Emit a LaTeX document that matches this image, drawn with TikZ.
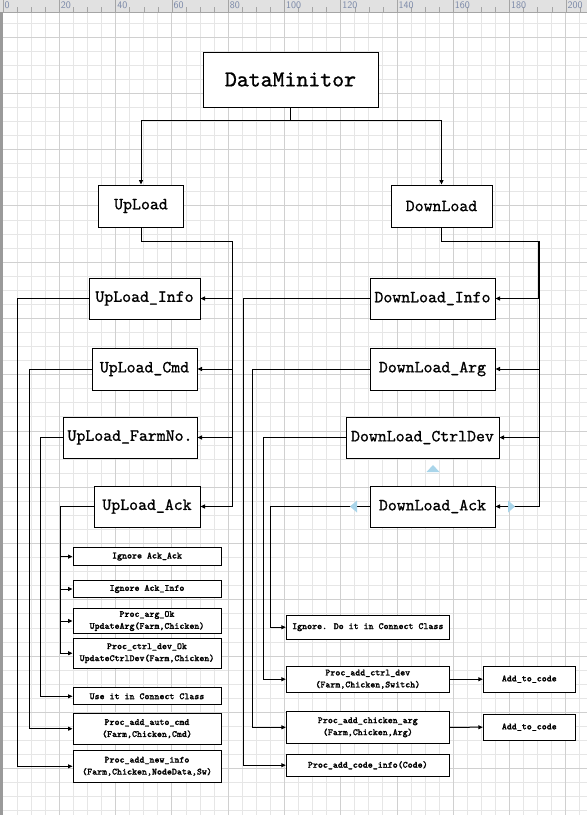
\documentclass[tikz,border=0pt]{standalone}
\usepackage{fontspec}
\usetikzlibrary{arrows.meta}
\newfontfamily\mainmono{lmmono10-regular.otf}[FakeBold=1]
\newfontfamily\smallmono{lmmonolt10-bold.otf}[FakeBold=1.2]
\definecolor{gridminor}{HTML}{E6E6E6}
\definecolor{gridmajor}{HTML}{D0D0D0}
\definecolor{rulerbg}{HTML}{E1E1E1}
\definecolor{rulerline}{HTML}{A5A5A5}
\definecolor{rulertext}{HTML}{7A88A8}
\definecolor{leftedge}{HTML}{9A9A9A}
\definecolor{handle}{HTML}{A9D5EA}
\begin{document}
\begin{tikzpicture}[x=1pt,y=-1pt,
  box/.style={draw, line width=1pt, fill=white, inner sep=0pt, align=center},
  big/.style={box, font=\mainmono\fontsize{17}{20}\selectfont},
  small/.style={box, font=\smallmono\fontsize{9.5}{12}\selectfont, minimum width=148pt},
  smallr/.style={small, minimum width=163pt},
  conn/.style={line width=1pt},
  arr/.style={conn, -{Triangle[length=4.5pt,width=4pt]}},
  rulerlab/.style={anchor=north west, inner sep=0pt, text=rulertext, font=\sffamily\fontsize{10}{10}\selectfont}
]
\useasboundingbox (0,0) rectangle (587,815);
\fill[white] (0,0) rectangle (587,815);
% grid
\foreach \i in {1,...,41} { \draw[gridminor, line width=0.8pt] ({3+14.07*\i},12) -- ({3+14.07*\i},815); }
\foreach \j in {-1,...,55} { \draw[gridminor, line width=0.8pt] (3,{37+14.07*\j}) -- (587,{37+14.07*\j}); }
\foreach \i in {4,8,...,40} { \draw[gridmajor, line width=0.8pt] ({3+14.07*\i},12) -- ({3+14.07*\i},815); }
\foreach \j in {0,4,...,52} { \draw[gridmajor, line width=0.8pt] (3,{37+14.07*\j}) -- (587,{37+14.07*\j}); }
% ruler
\fill[rulerbg] (0,0) rectangle (587,12);
\draw[rulerline] (0,12) -- (587,12);
\foreach \i in {0,...,41} { \draw[rulerline] ({3+14.07*\i},7) -- ({3+14.07*\i},12); }
\foreach \k in {0,...,10} {
  \pgfmathtruncatemacro\lab{20*\k}
  \draw[rulerline] ({3+56.28*\k},0) -- ({3+56.28*\k},12);
  \node[rulerlab] (r\k) at ({4.5+56.28*\k},1.5) {\lab};
}
\fill[leftedge] (0,12) rectangle (2.5,815);

% main nodes
\node[big, minimum width=175pt, minimum height=55pt, font=\mainmono\fontsize{22.7}{26}\selectfont] (dm) at (290.5,79.5) {DataMinitor};
\node[big, minimum width=85pt, minimum height=42pt] (up) at (141,206) {UpLoad};
\node[big, minimum width=101pt, minimum height=42pt] (down) at (441.5,206) {DownLoad};

\node[big, minimum width=111pt, minimum height=41pt] (upinfo) at (144.5,298.5) {UpLoad\_Info};
\node[big, minimum width=105pt, minimum height=42pt] (upcmd) at (144.5,369) {UpLoad\_Cmd};
\node[big, minimum width=134pt, minimum height=41pt] (upfarm) at (130,437.5) {UpLoad\_FarmNo.};
\node[big, minimum width=106pt, minimum height=41pt] (upack) at (147,506.5) {UpLoad\_Ack};

\node[big, minimum width=125pt, minimum height=41pt] (dninfo) at (432.5,298.5) {DownLoad\_Info};
\node[big, minimum width=125pt, minimum height=42pt] (dnarg) at (432.5,369) {DownLoad\_Arg};
\node[big, minimum width=153pt, minimum height=41pt] (dnctrl) at (422.5,437.5) {DownLoad\_CtrlDev};
\node[big, minimum width=125pt, minimum height=41pt] (dnack) at (432.5,506.5) {DownLoad\_Ack};

% left leaf nodes
\node[small, minimum height=18.7pt] (ign1) at (147,556.6) {Ignore Ack\_Ack};
\node[small, minimum height=16.6pt] (ign2) at (147,589) {Ignore Ack\_Info};
\node[small, minimum height=24.7pt] (argok) at (147,621) {Proc\_arg\_Ok\\UpdateArg(Farm,Chicken)};
\node[small, minimum height=29.7pt] (ctrlok) at (147,653.2) {Proc\_ctrl\_dev\_Ok\\UpdateCtrlDev(Farm,Chicken)};
\node[small, minimum height=17.3pt] (useit) at (147,696.3) {Use it in Connect Class};
\node[small, minimum height=30.7pt] (autocmd) at (147,728.7) {Proc\_add\_auto\_cmd\\(Farm,Chicken,Cmd)};
\node[small, minimum height=32pt] (newinfo) at (147,766.3) {Proc\_add\_new\_info\\(Farm,Chicken,NodeData,Sw)};

% right leaf nodes
\node[smallr, minimum height=23.7pt] (ignr) at (367.8,627.2) {Ignore. Do it in Connect Class};
\node[smallr, minimum height=25.7pt] (ctrldev) at (367.8,679.2) {Proc\_add\_ctrl\_dev\\(Farm,Chicken,Switch)};
\node[smallr, minimum height=32pt] (chick) at (367.8,727.3) {Proc\_add\_chicken\_arg\\(Farm,Chicken,Arg)};
\node[smallr, minimum height=21.7pt] (codeinfo) at (367.8,765.2) {Proc\_add\_code\_info(Code)};
\node[small, minimum width=92pt, minimum height=25.7pt] (add1) at (529.3,679.2) {Add\_to\_code};
\node[small, minimum width=92pt, minimum height=25.7pt] (add2) at (529.3,727.2) {Add\_to\_code};

% top connectors
\coordinate (split) at (290.5,120);
\draw[conn] (dm.south) -- (split);
\draw[arr] (split) -| (up.north);
\draw[arr] (split) -| (down.north);

% upload bus
\coordinate (ubus) at (232,241);
\draw[conn] (up.south) |- (ubus);
\draw[arr] (ubus) |- (upack.east);
\foreach \n in {upinfo,upcmd,upfarm} { \draw[arr] (ubus |- \n.east) -- (\n.east); }

% download bus
\coordinate (dbus) at (539,241);
\draw[conn] (down.south) |- (dbus);
\draw[line width=2pt] (dbus) -- (dbus |- dninfo.east);
\draw[arr] (dbus) |- (dnack.east);
\foreach \n in {dninfo,dnarg,dnctrl} { \draw[arr] (dbus |- \n.east) -- (\n.east); }

% upload branches
\coordinate (lb) at (60,506.5);
\draw[conn] (upack.west) -- (lb);
\draw[arr] (lb) |- (ctrlok.west);
\foreach \n in {ign1,ign2,argok} { \draw[arr] (lb |- \n.west) -- (\n.west); }
\draw[arr] (upfarm.west) -- ++(-22,0) |- (useit.west);
\draw[arr] (upcmd.west) -- ++(-62,0) |- (autocmd.west);
\draw[arr] (upinfo.west) -- ++(-71,0) |- (newinfo.west);

% download branches
\draw[arr] (dnack.west) -- ++(-99,0) |- (ignr.west);
\draw[arr] (dnctrl.west) -- ++(-82,0) |- (ctrldev.west);
\draw[arr] (dnarg.west) -- ++(-117,0) |- (chick.west);
\draw[arr] (dninfo.west) -- ++(-126,0) |- (codeinfo.west);
\draw[arr] (ctrldev.east) -- (add1.west);
\draw[arr] (chick.east) -- (add2.west);

% selection handles
\fill[handle] (426.5,472) -- (439.5,472) -- (433,465) -- cycle;
\fill[handle] (350,506.5) -- (357,500.5) -- (357,512.5) -- cycle;
\fill[handle] (515,506.5) -- (508,500.5) -- (508,512.5) -- cycle;
\end{tikzpicture}
\end{document}
